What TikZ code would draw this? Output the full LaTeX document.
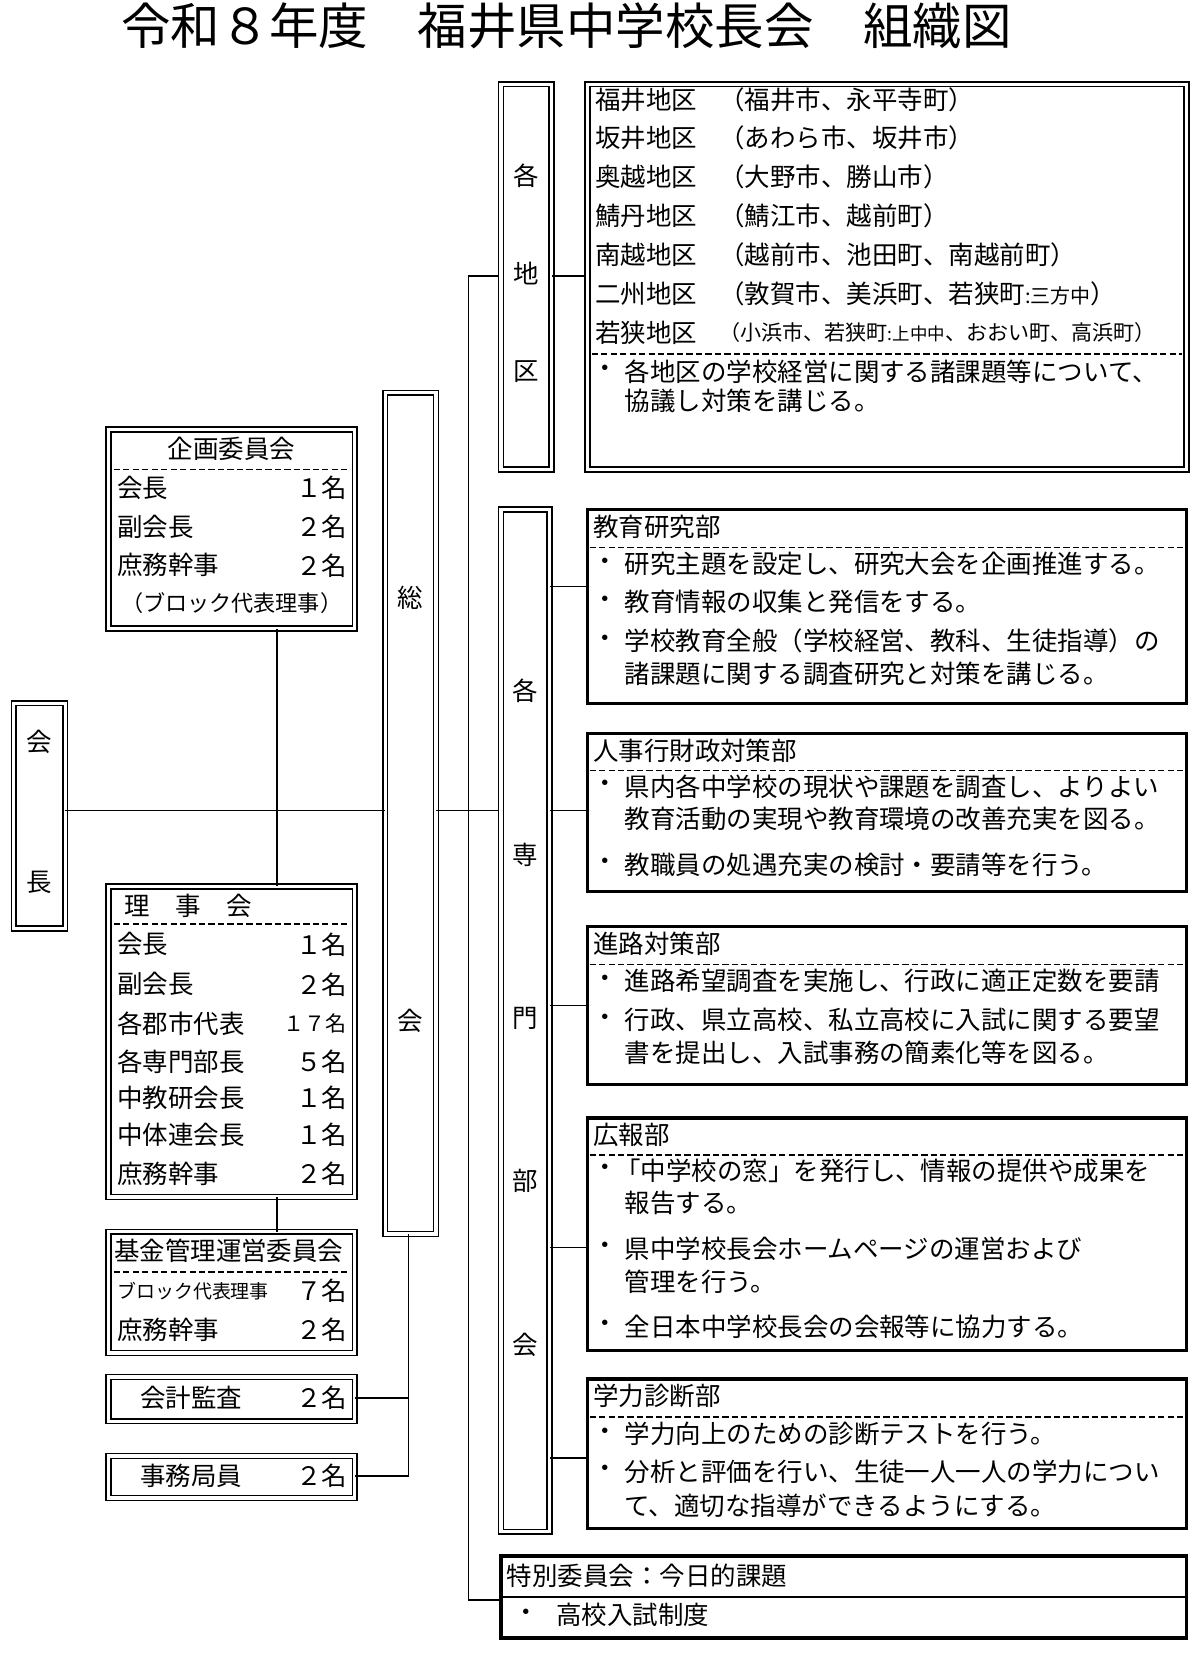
\documentclass[tikz,border=0pt]{standalone}
\usepackage{fontspec}
\setmainfont{Noto Sans CJK JP}
\begin{document}
\begin{tikzpicture}[x=0.5pt,y=-0.5pt,
  box/.style={draw,double,double distance=1.6pt,line width=0.7pt},
  sbox/.style={draw,line width=1.6pt},
  t/.style={anchor=west,inner sep=0pt,font=\fontsize{12.1}{13}\selectfont},
  tr/.style={anchor=east,inner sep=0pt,font=\fontsize{12.1}{13}\selectfont},
  tc/.style={inner sep=0pt,font=\fontsize{12.1}{13}\selectfont},
  dl/.style={dashed,line width=0.8pt,dash pattern=on 3pt off 1.5pt},
  ln/.style={line width=0.8pt}]
\useasboundingbox (0,0) rectangle (1140,1573);
\node[inner sep=0pt,font=\fontsize{23.5}{25}\selectfont] (title) at (538,25) {令和８年度　福井県中学校長会　組織図};
% 会長
\draw[box] (13,668) rectangle (62,882);
\coordinate (kR) at (62,770);
\node[tc] (k1) at (37,705) {会};
\node[tc] (k2) at (37,838) {長};
% 企画委員会
\draw[box] (103,408) rectangle (337,597);
\coordinate (kikT) at (263,597);
\node[tc] (kh) at (220,426) {企画委員会};
\draw[dl] (108,446) -- (332,446);
\node[t] (a1) at (111,463) {会長}; \node[tr] (a1n) at (330,463) {１名};
\node[t] (a2) at (111,500) {副会長}; \node[tr] (a2n) at (330,500) {２名};
\node[t] (a3) at (111,537) {庶務幹事}; \node[tr] (a3n) at (330,537) {２名};
\node[tc,font=\fontsize{10.5}{12}\selectfont] (a4) at (220,573) {（ブロック代表理事）};
% 理事会
\draw[box] (103,842) rectangle (337,1137);
\node[t] (rh) at (118,860) {理　事　会};
\draw[dl] (108,878) -- (332,878);
\foreach \i/\y/\a/\b in {1/897/会長/１名,2/935/副会長/２名,4/1009/各専門部長/５名,5/1043/中教研会長/１名,6/1078/中体連会長/１名,7/1115/庶務幹事/２名}{
  \node[t] (r\i) at (111,\y) {\a}; \node[tr] (rn\i) at (330,\y) {\b};}
\node[t] (r3) at (111,972) {各郡市代表};
\node[tr,font=\fontsize{10}{12}\selectfont] (rn3) at (330,972) {１７名};
% 基金
\draw[box] (103,1170) rectangle (337,1285);
\node[t] (fh) at (108,1188) {基金管理運営委員会};
\draw[dl] (108,1208) -- (332,1208);
\node[t,font=\fontsize{9}{10}\selectfont] (f1) at (111,1226) {ブロック代表理事};
\node[tr] (f1n) at (330,1226) {７名};
\node[t] (f2) at (111,1263) {庶務幹事}; \node[tr] (f2n) at (330,1263) {２名};
% 会計監査, 事務局員
\draw[box] (103,1308) rectangle (337,1350);
\node[t] (g1) at (133,1328) {会計監査}; \node[tr] (g1n) at (330,1328) {２名};
\draw[box] (103,1383) rectangle (337,1423);
\node[t] (j1) at (133,1402) {事務局員}; \node[tr] (j1n) at (330,1402) {２名};
% 総会
\draw[box] (366,373) rectangle (414,1172);
\node[tc] (s1) at (390,568) {総};
\node[tc] (s2) at (390,970) {会};
% connectors left
\draw[ln] (kR) -- (366,770);
\draw[ln] (kikT) -- (263,842);
\draw[ln] (263,1137) -- (263,1170);
\draw[ln] (337,1328) -- (388,1328);
\draw[ln] (337,1402) -- (388,1402) -- (388,1172);
\draw[ln] (414,770) -- (476,770);
\draw[ln] (445,262) -- (445,1520) -- (476,1520);
\draw[ln] (445,262) -- (476,262);
% 各地区
\draw[box] (476,80) rectangle (524,446);
\node[tc] (c1) at (500,167) {各};
\node[tc] (c2) at (500,260) {地};
\node[tc] (c3) at (500,353) {区};
\draw[ln] (524,262) -- (558,262);
\draw[box] (558,80) rectangle (1127,446);
\foreach \i/\y/\a/\b in {1/95/福井地区/（福井市、永平寺町）,2/131/坂井地区/（あわら市、坂井市）,3/168/奥越地区/（大野市、勝山市）,4/205/鯖丹地区/（鯖江市、越前町）,5/242/南越地区/（越前市、池田町、南越前町）}{
  \node[t] (d\i) at (565,\y) {\a}; \node[t] (dd\i) at (683,\y) {\b};}
\node[t] (d6) at (565,279) {二州地区};
\node[t] (dd6) at (683,279) {（敦賀市、美浜町、若狭町{\fontsize{9.5}{10}\selectfont :三方中}）};
\node[t] (d7) at (565,316) {若狭地区};
\node[t,font=\fontsize{10}{11}\selectfont] (dd7) at (683,316) {（小浜市、若狭町{\fontsize{8.3}{9}\selectfont :上中中}、おおい町、高浜町）};
\draw[dl] (562,336) -- (1123,336);
\node[tc] (db) at (575,353) {・};
\node[t] (dt1) at (593,353) {各地区の学校経営に関する諸課題等について、};
\node[t] (dt2) at (593,381) {協議し対策を講じる。};
% 各専門部会
\draw[box] (476,484) rectangle (522,1455);
\node[tc] (e1) at (499,656) {各};
\node[tc] (e2) at (499,812) {専};
\node[tc] (e3) at (499,967) {門};
\node[tc] (e4) at (499,1122) {部};
\node[tc] (e5) at (499,1277) {会};
% departments
\newcommand{\dept}[6]{% name, top, bottom, header, connect y, dashed y
  \draw[sbox] (558,#2) rectangle (1127,#3);
  \node[t] (#1h) at (563,#2+16) {#4};
  \draw[dl] (560,#6) -- (1125,#6);
  \draw[ln] (522,#5) -- (558,#5);}
\dept{p1}{484}{668}{教育研究部}{557}{520}
\node[tc] (p1b1) at (575,536) {・}; \node[t] (p1t1) at (593,536) {研究主題を設定し、研究大会を企画推進する。};
\node[tc] (p1b2) at (575,572) {・}; \node[t] (p1t2) at (593,572) {教育情報の収集と発信をする。};
\node[tc] (p1b3) at (575,609) {・}; \node[t] (p1t3) at (593,609) {学校教育全般（学校経営、教科、生徒指導）の};
\node[t] (p1t4) at (593,640) {諸課題に関する調査研究と対策を講じる。};
\dept{p2}{697}{847}{人事行財政対策部}{770}{732}
\node[tc] (p2b1) at (575,747) {・}; \node[t] (p2t1) at (593,747) {県内各中学校の現状や課題を調査し、よりよい};
\node[t] (p2t2) at (593,778) {教育活動の実現や教育環境の改善充実を図る。};
\node[tc] (p2b3) at (575,821) {・}; \node[t] (p2t3) at (593,821) {教職員の処遇充実の検討・要請等を行う。};
\dept{p3}{880}{1030}{進路対策部}{955}{916}
\node[tc] (p3b1) at (575,932) {・}; \node[t] (p3t1) at (593,932) {進路希望調査を実施し、行政に適正定数を要請};
\node[tc] (p3b2) at (575,969) {・}; \node[t] (p3t2) at (593,969) {行政、県立高校、私立高校に入試に関する要望};
\node[t] (p3t3) at (593,1000) {書を提出し、入試事務の簡素化等を図る。};
\dept{p4}{1062}{1283}{広報部}{1185}{1097}
\node[tc] (p4b1) at (575,1112) {・}; \node[t] (p4t1) at (584,1112) {「中学校の窓」を発行し、情報の提供や成果を};
\node[t] (p4t2) at (593,1143) {報告する。};
\node[tc] (p4b3) at (575,1186) {・}; \node[t] (p4t3) at (593,1186) {県中学校長会ホームページの運営および};
\node[t] (p4t4) at (593,1218) {管理を行う。};
\node[tc] (p4b5) at (575,1260) {・}; \node[t] (p4t5) at (593,1260) {全日本中学校長会の会報等に協力する。};
\dept{p5}{1310}{1452}{学力診断部}{1385}{1346}
\node[tc] (p5b1) at (575,1362) {・}; \node[t] (p5t1) at (593,1362) {学力向上のための診断テストを行う。};
\node[tc] (p5b2) at (575,1398) {・}; \node[t] (p5t2) at (593,1398) {分析と評価を行い、生徒一人一人の学力につい};
\node[t] (p5t3) at (593,1430) {て、適切な指導ができるようにする。};
% 特別委員会
\draw[sbox] (476,1478) rectangle (1127,1556);
\node[t] (sp) at (481,1497) {特別委員会：今日的課題};
\draw[ln] (476,1517) -- (1127,1517);
\node[tc] (spb) at (500,1534) {・}; \node[t] (spt) at (528,1534) {高校入試制度};
\end{tikzpicture}
\end{document}
